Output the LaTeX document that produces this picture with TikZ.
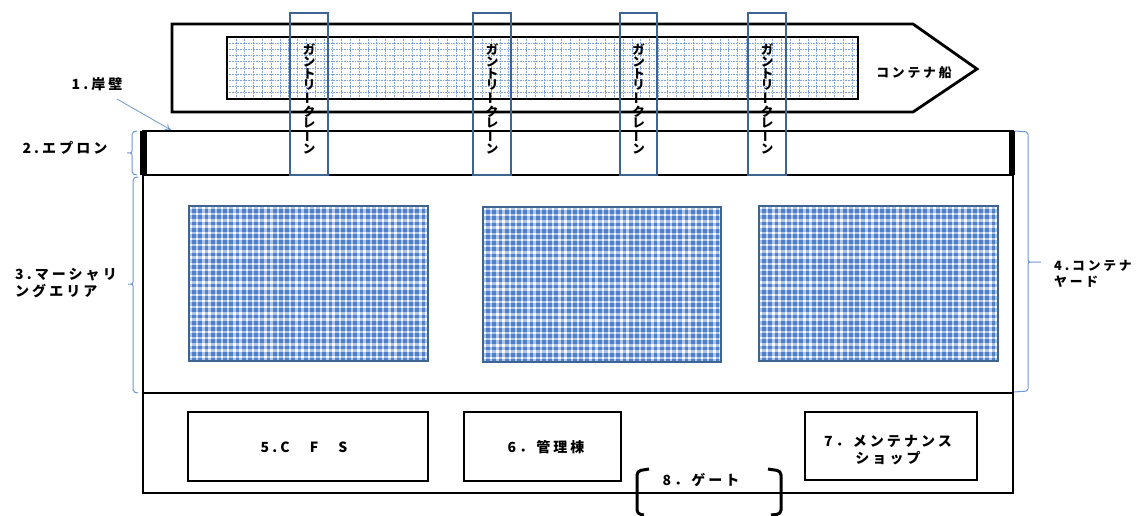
\documentclass[tikz,border=0pt]{standalone}
\usepackage{fontspec}
\newfontfamily\jp{Noto Sans CJK JP}[LetterSpace=22]
\newfontfamily\jpv{Noto Sans CJK JP}
\usetikzlibrary{arrows.meta}
\definecolor{crane}{HTML}{3E6491}
\definecolor{brc}{HTML}{6F98D2}
\definecolor{gridc}{HTML}{7FA3DA}
\definecolor{chkbase}{HTML}{4F80C8}
\definecolor{chkline}{HTML}{AFC6EA}
\tikzset{
  outline/.style={draw=black,line width=2.8pt},
  cranebox/.style={draw=crane,line width=2.6pt},
  yardbox/.style={draw=crane,line width=2pt},
  bracepath/.style={draw=brc,line width=1pt,rounded corners=2pt},
  lbl/.style={font=\jp\bfseries\fontsize{14}{17}\selectfont,inner sep=0pt,align=center},
  slbl/.style={font=\jp\bfseries\fontsize{12.8}{16}\selectfont,inner sep=0pt,align=center},
  vlbl/.style={font=\jpv\bfseries\fontsize{12.5}{11.7}\selectfont,inner sep=0pt,align=center},
  gatebr/.style={draw=black,line width=3pt,rounded corners=4pt}
}
\newcommand{\vbar}{\rotatebox[origin=c]{90}{ー}}
\newcommand{\cranetext}{ガ\\ン\\ト\\リ\\\vbar\\ク\\レ\\\vbar\\ン}
\begin{document}
\begin{tikzpicture}[x=1pt,y=-1pt]
\useasboundingbox (0,0) rectangle (1138,516);
\fill[white] (0,0) rectangle (1138,516);

% ship
\draw[outline,fill=white] (172,24) -- (913,24) -- (977,69) -- (913,112) -- (172,112) -- cycle;
% cargo with dotted grid
\fill[white] (227,37) rectangle (858,99);
\begin{scope}
  \clip (227,37) rectangle (858,99);
  \foreach \x in {0,...,72} {\draw[gridc,line width=0.6pt,densely dotted] (227+8.8*\x,37) -- (227+8.8*\x,99);}
  \foreach \y in {1,...,10} {\draw[gridc,line width=0.6pt,densely dotted] (227,37+6.2*\y) -- (858,37+6.2*\y);}
\end{scope}
\draw[outline] (227,37) rectangle (858,99);
\node[slbl] (ship) at (914,73) {コンテナ船};

% yard
\draw[outline] (143,131) rectangle (1013,493);
\draw[outline] (143,175) -- (1013,175);
\draw[outline] (143,393) -- (1013,393);
\fill[black] (140,131) rectangle (147,175);
\fill[black] (1009,131) rectangle (1015,175);

% container stacks
\foreach \xa/\ya/\xb/\yb in {189/206/428/361, 483/207/721/362, 759/206/998/361} {
  \fill[chkbase] (\xa,\ya) rectangle (\xb,\yb);
  \begin{scope}
    \clip (\xa,\ya) rectangle (\xb,\yb);
    \foreach \k in {0,...,40} {\draw[chkline,line width=2.4pt] (\xa+2+6.2*\k,\ya) -- (\xa+2+6.2*\k,\yb);}
    \foreach \k in {0,...,26} {\draw[chkline,line width=2.4pt] (\xa,\ya+2+6.2*\k) -- (\xb,\ya+2+6.2*\k);}
    \foreach \k in {0,...,40} {\draw[white,line width=2.4pt,dash pattern=on 2.4pt off 3.8pt,dash phase=5.4pt] (\xa+2+6.2*\k,\ya) -- (\xa+2+6.2*\k,\yb);}
  \end{scope}
  \draw[yardbox] (\xa,\ya) rectangle (\xb,\yb);
}

% gantry cranes
\foreach \xa/\xb/\n in {290/328/1, 473/511/2, 620/657/3, 748/786/4} {
  \draw[cranebox] (\xa,13) rectangle (\xb,175);
  \node[vlbl] (crane\n) at ({(\xa+\xb)/2},99) {\cranetext};
}

% bottom facilities
\draw[outline] (188,412) rectangle (428,481);
\node[lbl] (cfs) at (304,447) {5.C　F　S};
\draw[outline] (464,412) rectangle (621,481);
\node[lbl] (office) at (546,447) {6．管理棟};
\draw[outline] (805,412) rectangle (977,480);
\node[lbl] (shop) at (888,450) {7．メンテナンス\\ショップ};

% gate
\draw[gatebr] (649,469) -- (637,471) -- (637,514) -- (644,515);
\draw[gatebr] (768,469) -- (781,471) -- (781,514) -- (771,515);
\node[lbl] (gate) at (701,480) {8．ゲート};

% labels & braces
\node[lbl] (quay) at (97,84) {1.岸壁};
\coordinate (quaypt) at (171,130);
\draw[brc,line width=0.8pt,-{To[length=6pt,width=7pt]}] (117,99) -- (quaypt);

\node[lbl] (apron) at (65,148) {2.エプロン};
\draw[bracepath] (137,131) -- (132,132) -- (132,153) -- (126,153) -- (132,153) -- (132,174) -- (137,175);

\node[lbl,align=left] (marsh) at (66,283) {3.マーシャリ\\ングエリア};
\draw[bracepath] (138,177) -- (133,178) -- (133,284) -- (127,284) -- (133,284) -- (133,392) -- (138,393);

\node[slbl,align=left] (cyard) at (1093,274) {4.コンテナ\\ヤード};
\draw[bracepath] (1015,131) -- (1028,132) -- (1028,262) -- (1042,262) -- (1028,262) -- (1028,391) -- (1014,392);
\end{tikzpicture}
\end{document}
